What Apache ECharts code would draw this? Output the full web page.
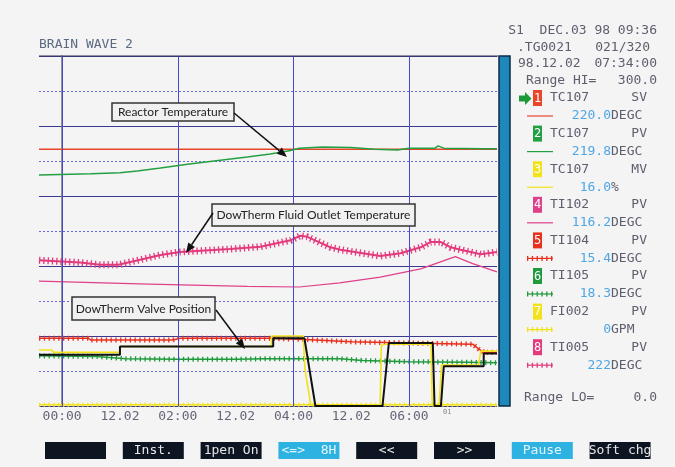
<!DOCTYPE html>
<html>
<head>
<meta charset="utf-8">
<script src="https://cdn.jsdelivr.net/npm/echarts@6/dist/echarts.min.js"></script>
<style>
  html, body { margin: 0; padding: 0; background: #f4f4f4; }
  #chart { width: 675px; height: 467px; }
</style>
</head>
<body>
<div id="chart"></div>
<script>
// x = hours from 00:00 on 12.02, y = chart scale 0..300 (Range LO / HI)
const timeLabels = ['00:00', '12.02', '02:00', '12.02', '04:00', '12.02', '06:00'];
const labelHours = [0, 1, 2, 3, 4, 5, 6];
const gridHours = [0, 2, 4, 6];

const tc107Sv = [[-0.4, 220], [7.52, 220]];
const tc107Pv = [[-0.4, 198], [0.5, 199], [1.0, 200], [1.3, 201.5], [1.7, 204], [2.2, 207.5], [2.7, 210.5],
  [3.2, 213.5], [3.6, 216], [3.95, 219], [4.1, 221], [4.5, 222], [5.0, 221.5], [5.4, 220], [5.8, 219.5],
  [6.0, 221], [6.45, 221], [6.5, 223], [6.6, 221], [7.3, 220.5], [7.52, 220.5]];
const tc107Mv = [[-0.4, 48], [-0.18, 48], [-0.15, 46], [1.0, 46], [1.0, 51], [3.62, 51], [3.62, 60], [4.17, 60],
  [4.2, 31], [4.3, 1], [5.5, 1], [5.52, 52], [5.6, 53], [6.38, 53], [6.4, 1], [6.52, 1], [6.56, 35],
  [7.2, 35], [7.24, 47], [7.52, 47]];
const valvePos = [[-0.4, 44], [1.0, 44], [1.0, 51], [3.65, 51], [3.65, 58], [4.19, 58], [4.38, 0], [5.54, 0],
  [5.65, 54], [6.41, 54], [6.44, 0], [6.55, 0], [6.6, 34], [7.29, 34], [7.29, 45], [7.52, 45]];
const ti102 = [[-0.4, 107], [1.5, 104.5], [3.2, 102.5], [4.1, 102], [4.8, 105.5], [5.5, 110.5], [6.2, 117.5],
  [6.8, 128], [7.1, 122], [7.52, 115]];
const ti104 = [[-0.4, 58], [0.45, 58], [0.5, 56.5], [1.9, 56.5], [2.05, 58], [3.6, 58], [4.2, 57], [5.0, 55],
  [6.0, 54], [7.1, 53], [7.2, 49], [7.3, 46], [7.52, 46]];
const ti105 = [[-0.4, 43], [0.6, 42.5], [1.1, 40.5], [2.0, 40], [3.0, 40], [3.5, 40.5], [4.8, 40.5], [5.2, 39],
  [6.0, 38], [7.0, 37.5], [7.52, 37]];
const fi002 = [[-0.4, 1], [7.52, 1]];
const ti005 = [[-0.4, 125], [0.31, 123], [0.66, 121], [0.97, 121], [1.18, 123.5], [1.7, 129.5], [2.04, 132],
  [2.9, 134.5], [3.43, 136.5], [3.95, 142], [4.12, 146], [4.24, 145], [4.64, 136], [4.81, 134], [5.5, 128.5],
  [5.85, 131], [6.2, 136], [6.37, 140.5], [6.55, 140.5], [6.72, 136], [6.89, 134], [7.24, 130], [7.52, 132]];

// pen panel on the right
const penIds = ['1', '2', '3', '4', '5', '6', '7', '8'];
const penTags = ['TC107', 'TC107', 'TC107', 'TI102', 'TI104', 'TI105', 'FI002', 'TI005'];
const penModes = ['SV', 'PV', 'MV', 'PV', 'PV', 'PV', 'PV', 'PV'];
const penValues = ['220.0', '219.8', '16.0', '116.2', '15.4', '18.3', '0', '222'];
const penUnits = ['DEGC', 'DEGC', '%', 'DEGC', 'DEGC', 'DEGC', 'GPM', 'DEGC'];
const buttonLabels = ['', 'Inst.', '1pen On', '<=>  8H', '<<', '>>', 'Pause', 'Soft chg'];

const penColors = ['#e8452a', '#23a043', '#f2e21c', '#e0408a', '#e8301e', '#1f9a3c', '#f2e21c', '#e23a7c'];
const penTicked = [false, false, false, false, true, true, true, true];
const MONO = '"DejaVu Sans Mono", monospace';
const GREY = '#5e5e6e';
const BLUE = '#4ea6e6';

function plain(data, color, width, z) {
  return { type: 'line', data: data, symbol: 'none', silent: true, z: z,
    lineStyle: { color: color, width: width } };
}
function ticked(data, color, width, tick, gap, z) {
  return [plain(data, color, width, z),
    { type: 'line', data: data, symbol: 'none', silent: true, z: z,
      lineStyle: { color: color, width: tick, type: [1.3, gap], cap: 'butt' } }];
}

const series = [].concat(
  [Object.assign(plain(tc107Sv, penColors[0], 1.5, 3), {
    markLine: {
      symbol: 'none', silent: true, label: { show: false },
      lineStyle: { color: '#4848cc', type: 'solid', width: 1 },
      data: gridHours.map(h => ({ xAxis: h }))
    }
  })],
  [plain(ti102, penColors[3], 1.2, 3)],
  ticked(fi002, penColors[6], 1.5, 4, 3.5, 3),
  ticked(ti005, penColors[7], 2, 7, 3, 4),
  ticked(ti105, penColors[5], 1.5, 5, 3.5, 4),
  ticked(ti104, penColors[4], 1.5, 5, 3.5, 4),
  [plain(tc107Mv, penColors[2], 1.6, 5)],
  [plain(valvePos, '#111111', 2, 6)],
  [plain(tc107Pv, penColors[1], 1.5, 6)]
);

const g = [];
function text(x, y, s, style, z) {
  g.push({ type: 'text', x: x, y: y, silent: true, z: z || 20,
    style: Object.assign({ text: s, font: '13px ' + MONO, fill: GREY, verticalAlign: 'middle' }, style || {}) });
}
function arrow(x1, y1, x2, y2) {
  const a = Math.atan2(y2 - y1, x2 - x1), L = 10, W = 4;
  const bx = x2 - L * Math.cos(a), by = y2 - L * Math.sin(a);
  g.push({ type: 'line', silent: true, z: 21, shape: { x1: x1, y1: y1, x2: bx, y2: by },
    style: { stroke: '#111', lineWidth: 1.5 } });
  g.push({ type: 'polygon', silent: true, z: 21,
    shape: { points: [[x2, y2], [bx + W * Math.sin(a), by - W * Math.cos(a)], [bx - W * Math.sin(a), by + W * Math.cos(a)]] },
    style: { fill: '#111' } });
}
function note(x, y, w, h, s) {
  g.push({ type: 'rect', silent: true, z: 21, shape: { x: x, y: y, width: w, height: h },
    style: { fill: '#f1f1f1', stroke: '#333', lineWidth: 1.5 } });
  text(x + w / 2, y + h / 2 + 0.5, s, { font: '12px Lato, sans-serif', fill: '#222', align: 'center' }, 22);
}

// title and plot frame
text(39, 45, 'BRAIN WAVE 2', { fill: '#5a6a82' });
g.push({ type: 'line', silent: true, z: 10, shape: { x1: 39, y1: 56, x2: 498, y2: 56 }, style: { stroke: '#34345a', lineWidth: 1.2 } });
g.push({ type: 'rect', silent: true, z: 10, shape: { x: 499, y: 56, width: 11, height: 350 },
  style: { fill: '#1f88bb', stroke: '#0b2a48', lineWidth: 1.5 } });
text(443, 412, '01', { font: '7px ' + MONO, fill: '#888' });

// annotations
note(112, 103, 122, 18, 'Reactor Temperature');
arrow(234, 113, 287, 157);
note(212, 204, 203, 22, 'DowTherm Fluid Outlet Temperature');
arrow(213, 213, 186, 253);
note(72, 297, 143, 23, 'DowTherm Valve Position');
arrow(216, 310, 245, 349);

// header of pen panel
text(657, 31, 'S1  DEC.03 98 09:36', { align: 'right' });
text(517, 48, '.TG0021');
text(650, 48, '021/320', { align: 'right' });
text(518, 64, '98.12.02');
text(657, 64, '07:34:00', { align: 'right' });
text(526, 81, 'Range HI=');
text(657, 81, '300.0', { align: 'right' });
text(524, 398, 'Range LO=');
text(657, 398, '0.0', { align: 'right' });

g.push({ type: 'polygon', silent: true, z: 20,
  shape: { points: [[519, 95.5], [525, 95.5], [525, 92], [531.5, 98.5], [525, 105], [525, 101.5], [519, 101.5]] },
  style: { fill: '#1c9a3a' } });

penIds.forEach((id, i) => {
  const y1 = 98 + i * 35.6, y2 = y1 + 18, c = penColors[i];
  g.push({ type: 'rect', silent: true, z: 20, shape: { x: 533, y: y1 - 8, width: 9, height: 16 }, style: { fill: c } });
  text(537.5, y1 + 0.5, id, { align: 'center', fill: '#fff', font: '12px ' + MONO }, 21);
  text(550, y1, penTags[i]);
  text(647, y1, penModes[i], { align: 'right' });
  text(611, y2, penValues[i], { align: 'right', fill: BLUE });
  text(611, y2, penUnits[i]);
  g.push({ type: 'line', silent: true, z: 20, shape: { x1: 527, y1: y2, x2: 553, y2: y2 }, style: { stroke: c, lineWidth: 1.2 } });
  if (penTicked[i]) {
    g.push({ type: 'line', silent: true, z: 20, shape: { x1: 527, y1: y2, x2: 553, y2: y2 },
      style: { stroke: c, lineWidth: 5, lineDash: [1.3, 3.5] } });
  }
});

// soft keys
buttonLabels.forEach((s, i) => {
  const x = 45 + i * 77.8, on = (i === 3 || i === 6);
  g.push({ type: 'rect', silent: true, z: 20, shape: { x: x, y: 442, width: 61, height: 17 },
    style: { fill: on ? '#2db2e2' : '#0d1522' } });
  text(x + 30.5, 451, s, { align: 'center', fill: on ? '#e4f6ff' : '#e6e6e6' }, 21);
});

const chart = echarts.init(document.getElementById('chart'));
chart.setOption({
  backgroundColor: '#f4f4f4',
  animation: false,
  grid: { left: 39, top: 56, right: 178, bottom: 61 },
  xAxis: {
    type: 'value', min: -0.4, max: 7.52,
    axisLine: { show: false }, axisTick: { show: false }, splitLine: { show: false },
    axisLabel: {
      customValues: labelHours, margin: 4, color: '#66667a', fontFamily: MONO, fontSize: 13,
      formatter: v => timeLabels[labelHours.indexOf(Math.round(v))] || ''
    }
  },
  yAxis: [
    {
      type: 'value', min: 0, max: 300, interval: 30,
      axisLabel: { show: false }, axisTick: { show: false },
      axisLine: { show: true, lineStyle: { color: '#707078', width: 1.5 } },
      splitLine: { lineStyle: { color: '#6a6ae0', type: [2, 2], width: 1 } }
    },
    {
      type: 'value', min: 0, max: 300, interval: 60, position: 'left',
      axisLabel: { show: false }, axisTick: { show: false }, axisLine: { show: false },
      splitLine: { lineStyle: { color: '#3a3a90', width: 1 } }
    }
  ],
  series: series,
  graphic: g
});
</script>
</body>
</html>
